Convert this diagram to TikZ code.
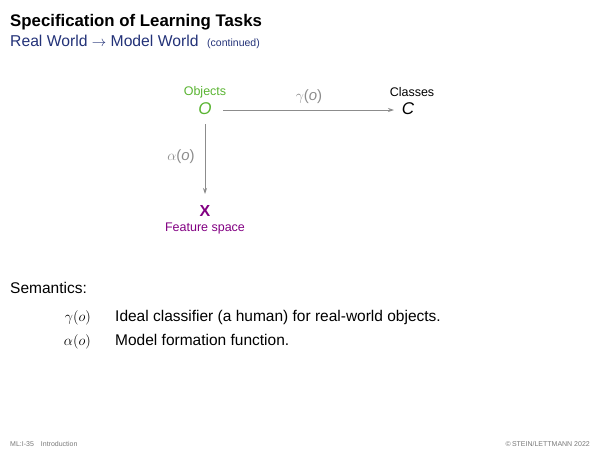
\documentclass[tikz,border=0pt]{standalone}
\usepackage{fontspec}
\setmainfont{Liberation Sans}
\usetikzlibrary{arrows.meta}
\definecolor{navy}{RGB}{35,50,120}
\definecolor{objgreen}{RGB}{90,180,50}
\definecolor{featpurple}{RGB}{130,0,130}
\definecolor{arrgray}{RGB}{140,140,140}
\definecolor{footgray}{RGB}{120,120,120}
\tikzset{
  lbl/.style={inner sep=0pt, font=\fontsize{12.5}{14}\selectfont},
  sym/.style={inner sep=0pt, font=\fontsize{17}{18}\selectfont},
  mapping/.style={draw=arrgray, line width=0.8pt, -{Stealth[length=6pt,width=4pt]}},
  fnlabel/.style={inner sep=0pt, text=arrgray, font=\fontsize{15}{16}\selectfont},
  body/.style={inner sep=0pt, anchor=base west, font=\fontsize{15.5}{17}\selectfont},
  foot/.style={inner sep=0pt, text=footgray, font=\fontsize{7}{8}\selectfont}
}
\begin{document}
\begin{tikzpicture}[x=1pt,y=-1pt]
\useasboundingbox (0,0) rectangle (600,450);
% title
\node[inner sep=0pt, anchor=base west, font=\fontsize{16.8}{18}\selectfont\bfseries] (title) at (10,26) {Specification of Learning Tasks};
\node[inner sep=0pt, anchor=base west, text=navy, font=\fontsize{15.7}{17}\selectfont] (sub) at (10,46) {Real World $\rightarrow$ Model World\ \ {\fontsize{10.5}{11}\selectfont (continued)}};
% diagram
\node[lbl, text=objgreen] (objlbl) at (205,92) {Objects};
\node[sym, text=objgreen] (O) at (205,109) {\textit{O}};
\node[lbl] (clslbl) at (412,92) {Classes};
\node[sym] (C) at (408,109) {\textit{C}};
\node[inner sep=0pt, text=featpurple, font=\fontsize{16}{17}\selectfont\bfseries] (X) at (205,211) {X};
\node[lbl, text=featpurple] (featlbl) at (205,228) {Feature space};
\coordinate (oe) at (223,110);
\coordinate (ce) at (394,110);
\coordinate (os) at (205,124);
\coordinate (xn) at (205,194);
\draw[mapping] (oe) -- (ce);
\draw[mapping] (os) -- (xn);
\node[fnlabel] (g) at (309,97) {$\gamma$(\textit{o})};
\node[fnlabel] (a) at (181,157) {$\alpha$(\textit{o})};
% semantics
\node[body] (sem) at (10,293) {Semantics:};
\node[body, anchor=base east] (gm) at (91,321) {$\gamma(o)$};
\node[body] (gt) at (115,321) {Ideal classifier (a human) for real-world objects.};
\node[body, anchor=base east] (am) at (91,345) {$\alpha(o)$};
\node[body] (at) at (115,345) {Model formation function.};
% footer
\node[foot, anchor=base west] (fl) at (10,446) {ML:I-35\quad Introduction};
\node[foot, anchor=base east] (fr) at (590,446) {\textcopyright\,STEIN/LETTMANN 2022};
\end{tikzpicture}
\end{document}
